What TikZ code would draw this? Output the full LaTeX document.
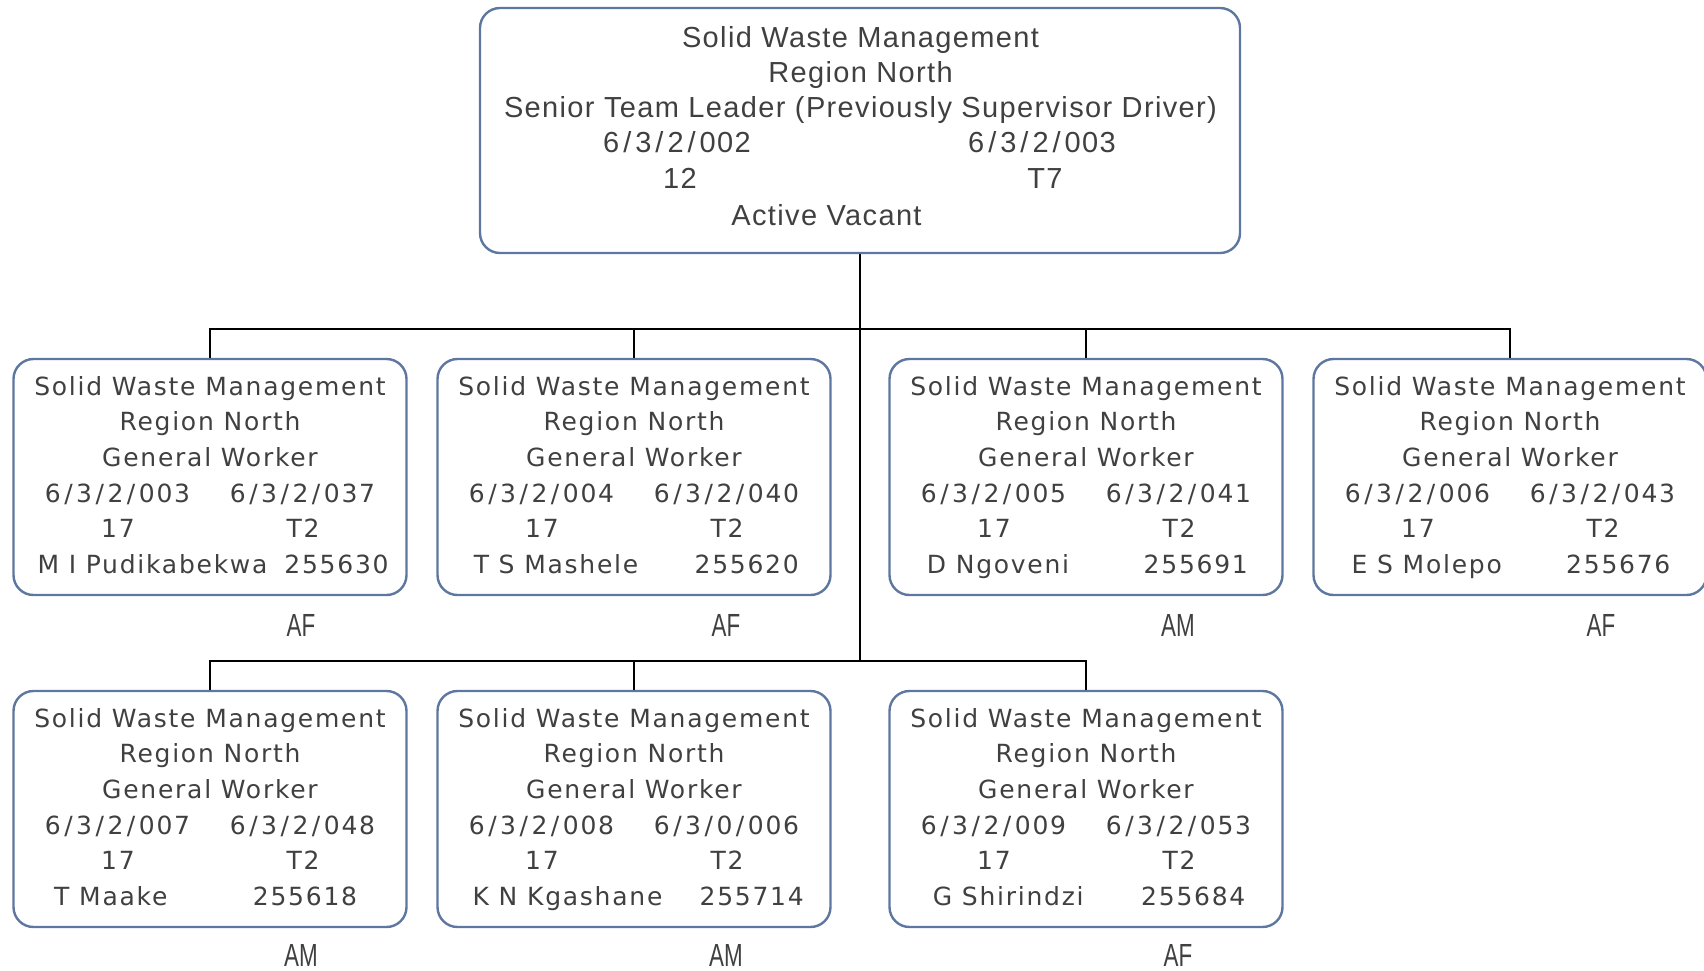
\documentclass[tikz,border=0pt]{standalone}
\usepackage{fontspec}
\setmainfont{DejaVu Sans}[LetterSpace=7]
\newfontfamily\topfont{Liberation Sans}[LetterSpace=4.7]
\newfontfamily\gfont{Liberation Sans}[FakeStretch=0.7]
\definecolor{boxline}{HTML}{5E77A0}
\definecolor{txt}{HTML}{404040}
\newcommand{\sla}{\kern3.5pt/\kern3.5pt}
\newcommand{\tsla}{\kern4pt/\kern4pt}
\tikzset{
  orgbox/.style={draw=boxline, line width=2.4pt, rounded corners=20pt, minimum width=393pt, minimum height=236pt, inner sep=0pt},
  topbox/.style={draw=boxline, line width=2.4pt, rounded corners=20pt, minimum width=760pt, minimum height=245pt, inner sep=0pt},
  lbl/.style={text=txt, font=\fontsize{25}{25}\selectfont, inner sep=0pt, anchor=base},
  toplbl/.style={text=txt, font=\topfont\fontsize{29}{29}\selectfont, inner sep=0pt, anchor=base},
  glbl/.style={text=txt, font=\gfont\fontsize{32}{32}\selectfont, inner sep=0pt, anchor=base},
  conn/.style={line width=2pt, black}
}
\newcommand{\orgnode}[9]{%
  % #1 name, #2 cx, #3 top y, #4 code1, #5 code2, #6 person, #7 number, #8 person offset, #9 number offset
  \node[orgbox] (#1) at (#2, #3+118) {};
  \node[lbl] (#1l1) at ([yshift=-38pt]#1.north) {Solid Waste Management};
  \node[lbl] (#1l2) at ([yshift=-73pt]#1.north) {Region North};
  \node[lbl] (#1l3) at ([yshift=-109pt]#1.north) {General Worker};
  \node[lbl] (#1l4) at ([xshift=-92.5pt,yshift=-144.5pt]#1.north) {#4};
  \node[lbl] (#1l5) at ([xshift=92.5pt,yshift=-144.5pt]#1.north) {#5};
  \node[lbl] (#1l6) at ([xshift=-92pt,yshift=-179.5pt]#1.north) {17};
  \node[lbl] (#1l7) at ([xshift=93pt,yshift=-179.5pt]#1.north) {T2};
  \node[lbl] (#1l8) at ([xshift=#8pt,yshift=-216pt]#1.north) {#6};
  \node[lbl] (#1l9) at ([xshift=#9pt,yshift=-216pt]#1.north) {#7};
}
\begin{document}
\begin{tikzpicture}[x=1pt,y=-1pt]
\useasboundingbox (0,0) rectangle (1704,970);
% top box
\node[topbox] (top) at (860,130.5) {};
\node[toplbl] (t1) at (860.5,47) {Solid Waste Management};
\node[toplbl] (t2) at (860.5,82) {Region North};
\node[toplbl] (t3) at (860.5,117) {Senior Team Leader (Previously Supervisor Driver)};
\node[toplbl] (t4) at (677,152.5) {6\tsla 3\tsla 2\tsla 002};
\node[toplbl] (t5) at (1042,152.5) {6\tsla 3\tsla 2\tsla 003};
\node[toplbl] (t6) at (680,188) {12};
\node[toplbl] (t7) at (1045,188) {T7};
\node[toplbl] (t8) at (826.5,225) {Active Vacant};
% row 1
\orgnode{a}{210}{359}{6\sla 3\sla 2\sla 003}{6\sla 3\sla 2\sla 037}{M I Pudikabekwa}{255630}{-57.5}{126.5}
\orgnode{b}{634}{359}{6\sla 3\sla 2\sla 004}{6\sla 3\sla 2\sla 040}{T S Mashele}{255620}{-78}{112.7}
\orgnode{c}{1086}{359}{6\sla 3\sla 2\sla 005}{6\sla 3\sla 2\sla 041}{D Ngoveni}{255691}{-88}{109.8}
\orgnode{d}{1510}{359}{6\sla 3\sla 2\sla 006}{6\sla 3\sla 2\sla 043}{E S Molepo}{255676}{-83.3}{108.3}
% row 2
\orgnode{e}{210}{691}{6\sla 3\sla 2\sla 007}{6\sla 3\sla 2\sla 048}{T Maake}{255618}{-99.2}{95}
\orgnode{f}{634}{691}{6\sla 3\sla 2\sla 008}{6\sla 3\sla 0\sla 006}{K N Kgashane}{255714}{-66.5}{117.7}
\orgnode{g}{1086}{691}{6\sla 3\sla 2\sla 009}{6\sla 3\sla 2\sla 053}{G Shirindzi}{255684}{-77.7}{107.3}
% gender labels
\node[glbl] (ga) at (301,636.5) {AF};
\node[glbl] (gb) at (726,636.5) {AF};
\node[glbl] (gc) at (1178,636.5) {AM};
\node[glbl] (gd) at (1601,636.5) {AF};
\node[glbl] (ge) at (301,966) {AM};
\node[glbl] (gf) at (726,966) {AM};
\node[glbl] (gg) at (1178,966) {AF};
% connectors
\coordinate (bus1) at (860,329);
\coordinate (bus2) at (860,661);
\draw[conn] (top.south) -- (bus2);
\draw[conn] (a.north) |- (bus1) -| (d.north);
\draw[conn] (b.north) -- (b.north |- bus1);
\draw[conn] (c.north) -- (c.north |- bus1);
\draw[conn] (e.north) |- (bus2) -| (g.north);
\draw[conn] (f.north) -- (f.north |- bus2);
\end{tikzpicture}
\end{document}
